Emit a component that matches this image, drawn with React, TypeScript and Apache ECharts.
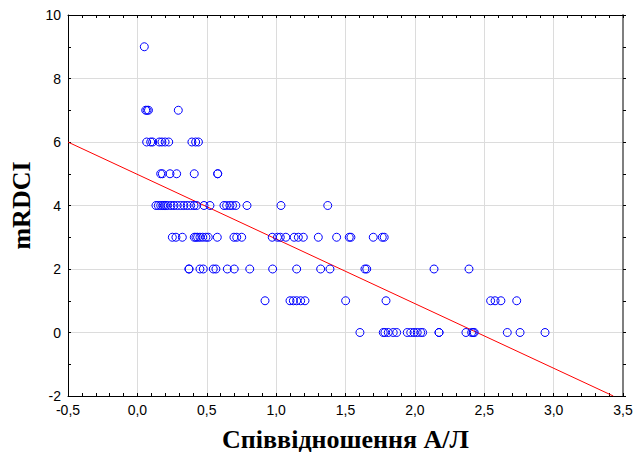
import React, { useEffect, useRef } from "react";
import * as echarts from "echarts";

// Observations: ratio A/L (x) and mRDCI score (y)
const ratioAL: number[] = [
  0.05,
  0.06, 0.07, 0.08, 0.295,
  0.067, 0.096, 0.11, 0.158, 0.177, 0.2, 0.226, 0.393, 0.42, 0.44,
  0.168, 0.18, 0.235, 0.283, 0.41, 0.579, 0.579,
  0.134, 0.151, 0.168, 0.182, 0.194, 0.204, 0.218, 0.242, 0.264, 0.288, 0.312, 0.335, 0.359, 0.384, 0.408, 0.427, 0.48, 0.523, 0.624, 0.643, 0.667, 0.686, 0.71, 0.79, 1.035, 1.372,
  0.252, 0.278, 0.324, 0.41, 0.422, 0.434, 0.451, 0.471, 0.494, 0.511, 0.576, 0.696, 0.716, 0.752, 0.972, 1.01, 1.03, 1.07, 1.13, 1.16, 1.196, 1.304, 1.436, 1.527, 1.539, 1.7, 1.765, 1.779,
  0.372, 0.372, 0.451, 0.475, 0.547, 0.566, 0.648, 0.698, 0.81, 0.975, 1.148, 1.321, 1.388, 1.64, 1.653, 2.138, 2.39,
  0.92, 1.1, 1.124, 1.148, 1.177, 1.208, 1.501, 1.792, 2.546, 2.578, 2.62, 2.734,
  1.604, 1.772, 1.784, 1.808, 1.844, 1.869, 1.945, 1.97, 1.994, 2.017, 2.042, 2.056, 2.174, 2.174, 2.368, 2.409, 2.42, 2.428, 2.666, 2.758, 2.938,
];
const mrdci: number[] = [
  9,
  7, 7, 7, 7,
  6, 6, 6, 6, 6, 6, 6, 6, 6, 6,
  5, 5, 5, 5, 5, 5, 5,
  4, 4, 4, 4, 4, 4, 4, 4, 4, 4, 4, 4, 4, 4, 4, 4, 4, 4, 4, 4, 4, 4, 4, 4, 4, 4,
  3, 3, 3, 3, 3, 3, 3, 3, 3, 3, 3, 3, 3, 3, 3, 3, 3, 3, 3, 3, 3, 3, 3, 3, 3, 3, 3, 3,
  2, 2, 2, 2, 2, 2, 2, 2, 2, 2, 2, 2, 2, 2, 2, 2, 2,
  1, 1, 1, 1, 1, 1, 1, 1, 1, 1, 1, 1,
  0, 0, 0, 0, 0, 0, 0, 0, 0, 0, 0, 0, 0, 0, 0, 0, 0, 0, 0, 0, 0,
];

// Linear regression fit: y = intercept + slope * x
const regIntercept = 4.98;
const regSlope = -2.035;
const regXRange: number[] = [-0.5, 3.43];

const xTitle = "Співвідношення А/Л";
const yTitle = "mRDCI";

export default function App() {
  const ref = useRef<HTMLDivElement>(null);

  useEffect(() => {
    if (!ref.current) return;
    const chart = echarts.init(ref.current, undefined, { renderer: "svg" });
    const points = ratioAL.map((x, i) => [x, mrdci[i]]);
    const regLine = regXRange.map((x) => [x, regIntercept + regSlope * x]);
    const labelFont = { fontFamily: "Liberation Sans, Arial, sans-serif", fontSize: 14, color: "#000" };
    const titleFont = { fontFamily: "Liberation Serif, Times New Roman, serif", fontWeight: "bold", fontSize: 26, color: "#000" };
    chart.setOption({
      animation: false,
      backgroundColor: "#fff",
      grid: { left: 68, top: 15, right: 12, bottom: 56, containLabel: false, outerBoundsMode: "none" },
      xAxis: [
        {
          type: "value",
          min: -0.5,
          max: 3.5,
          interval: 0.5,
          position: "bottom",
          axisLine: { show: true, onZero: false, lineStyle: { color: "#000", width: 1 } },
          axisTick: { show: true, inside: true, length: 3, lineStyle: { color: "#000" } },
          minorTick: { show: true, splitNumber: 5, length: 3, lineStyle: { color: "#000" } },
          splitLine: { show: true, lineStyle: { color: "#dcdcdc", width: 1 } },
          axisLabel: {
            ...labelFont,
            margin: 7,
            formatter: (v: number) => v.toFixed(1).replace(".", ","),
          },
          name: xTitle,
          nameLocation: "middle",
          nameGap: 33,
          nameTextStyle: { ...titleFont, lineHeight: 20 },
        },
        {
          type: "value",
          min: -0.5,
          max: 3.5,
          interval: 0.5,
          position: "top",
          axisLine: { show: true, onZero: false, lineStyle: { color: "#000", width: 1 } },
          axisTick: { show: true, inside: true, length: 3, lineStyle: { color: "#000" } },
          minorTick: { show: true, splitNumber: 5, length: 3, lineStyle: { color: "#000" } },
          splitLine: { show: false },
          axisLabel: { show: false },
        },
      ],
      yAxis: [
        {
          type: "value",
          min: -2,
          max: 10,
          interval: 2,
          position: "left",
          axisLine: { show: true, onZero: false, lineStyle: { color: "#000", width: 1 } },
          axisTick: { show: true, inside: true, length: 3, lineStyle: { color: "#000" } },
          minorTick: { show: true, splitNumber: 2, length: 3, lineStyle: { color: "#000" } },
          splitLine: { show: true, lineStyle: { color: "#dcdcdc", width: 1 } },
          axisLabel: { ...labelFont, margin: 7 },
          name: yTitle,
          nameLocation: "middle",
          nameGap: 32,
          nameRotate: 90,
          nameTextStyle: { ...titleFont, lineHeight: 26 },
        },
        {
          type: "value",
          min: -2,
          max: 10,
          interval: 2,
          position: "right",
          axisLine: { show: true, onZero: false, lineStyle: { color: "#7f7f7f", width: 2 } },
          axisTick: { show: true, inside: false, length: 3, lineStyle: { color: "#000" } },
          minorTick: { show: true, splitNumber: 2, length: 3, lineStyle: { color: "#000" } },
          splitLine: { show: false },
          axisLabel: { show: false },
        },
      ],
      series: [
        {
          type: "line",
          xAxisIndex: 0,
          yAxisIndex: 0,
          data: regLine,
          showSymbol: false,
          symbol: "none",
          lineStyle: { color: "#ff0000", width: 1 },
          z: 3,
        },
        {
          type: "scatter",
          xAxisIndex: 0,
          yAxisIndex: 0,
          data: points,
          symbol: "circle",
          symbolSize: 8,
          itemStyle: { color: "rgba(255,255,255,0)", borderColor: "#0000ff", borderWidth: 1, opacity: 1 },
          z: 4,
        },
      ],
    });
    return () => chart.dispose();
  }, []);

  return <div ref={ref} style={{ width: 635, height: 452, position: "absolute", left: 0, top: 0 }} />;
}
